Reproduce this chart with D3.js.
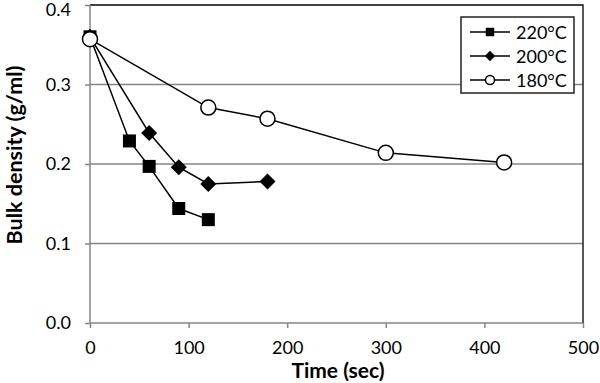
<!DOCTYPE html>
<html>
<head>
<meta charset="utf-8">
<script src="https://cdn.jsdelivr.net/npm/d3@7"></script>
<style>
  body { margin: 0; background: #fff; }
  text { font-family: Lato, "Open Sans", sans-serif; fill: #000; }
</style>
</head>
<body>
<div id="chart"></div>
<script>
// data
var seriesNames = ["220°C", "200°C", "180°C"];
var time220 = [0, 40, 60, 90, 120],
    dens220 = [0.360, 0.229, 0.197, 0.144, 0.130];
var time200 = [0, 60, 90, 120, 180],
    dens200 = [0.360, 0.239, 0.196, 0.175, 0.178];
var time180 = [0, 120, 180, 300, 420],
    dens180 = [0.357, 0.271, 0.257, 0.214, 0.202];
var xTicks = [0, 100, 200, 300, 400, 500],
    yTicks = [0.0, 0.1, 0.2, 0.3, 0.4];

var w = 600, h = 383,
    margin = {top: 5, right: 17, bottom: 60, left: 90},
    width = w - margin.left - margin.right,
    height = h - margin.top - margin.bottom;

var svg = d3.select("#chart").append("svg")
    .attr("width", w)
    .attr("height", h);

var g = svg.append("g")
    .attr("transform", "translate(" + margin.left + "," + margin.top + ")");

var x = d3.scaleLinear().domain([0, 500]).range([0, width]),
    y = d3.scaleLinear().domain([0, 0.4]).range([height, 0]);

// gridlines
g.selectAll(".grid")
    .data(yTicks.slice(1))
    .enter().append("line")
    .attr("x1", 0).attr("x2", width)
    .attr("y1", function(d) { return y(d); })
    .attr("y2", function(d) { return y(d); })
    .attr("stroke", "#858585")
    .attr("stroke-width", 1.5);

// top + right border
g.append("path")
    .attr("d", "M0," + y(0.4) + "H" + width + "V" + height)
    .attr("fill", "none")
    .attr("stroke", "#222")
    .attr("stroke-width", 1.5);

// axes
var xAxis = d3.axisBottom(x).tickValues(xTicks).tickSize(5).tickPadding(13).tickFormat(d3.format("d"));
var yAxis = d3.axisLeft(y).tickValues(yTicks).tickSize(5).tickPadding(14).tickFormat(d3.format(".1f"));

var ax = g.append("g")
    .attr("transform", "translate(0," + height + ")")
    .call(xAxis);
var ay = g.append("g").call(yAxis);

[ax, ay].forEach(function(a) {
    a.select(".domain").attr("stroke", "#858585").attr("stroke-width", 1.5);
    a.selectAll(".tick line").attr("stroke", "#858585").attr("stroke-width", 1.5);
    a.selectAll(".tick text")
        .style("font-family", "Lato, 'Open Sans', sans-serif")
        .style("font-size", "18px")
        .attr("fill", "#000");
});
ax.select(".domain").attr("d", "M0,0H" + width);
ay.select(".domain").attr("d", "M0," + height + "V0");
// top label sits a little low so it is not clipped
ay.selectAll(".tick text").filter(function(d) { return d == 0.4; }).attr("dy", "0.6em");

// axis titles
svg.append("text")
    .attr("x", 338)
    .attr("y", 378)
    .attr("text-anchor", "middle")
    .style("font-size", "21px")
    .style("font-weight", "bold")
    .text("Time (sec)");

svg.append("text")
    .attr("transform", "translate(22,155) rotate(-90)")
    .attr("text-anchor", "middle")
    .style("font-size", "21.5px")
    .style("font-weight", "bold")
    .text("Bulk density (g/ml)");

// series
var series = [
    {name: seriesNames[0], t: time220, v: dens220, shape: "square"},
    {name: seriesNames[1], t: time200, v: dens200, shape: "diamond"},
    {name: seriesNames[2], t: time180, v: dens180, shape: "circle"}
];

var line = d3.line()
    .x(function(d) { return x(d[0]); })
    .y(function(d) { return y(d[1]); });

function drawMarker(sel, shape, scale) {
    if (shape == "square") {
        var s = 13 * scale;
        sel.append("rect")
            .attr("x", -s / 2).attr("y", -s / 2)
            .attr("width", s).attr("height", s)
            .attr("fill", "#000");
    } else if (shape == "diamond") {
        var r = 8 * scale;
        sel.append("path")
            .attr("d", "M0," + (-r) + "L" + r + ",0L0," + r + "L" + (-r) + ",0Z")
            .attr("fill", "#000");
    } else {
        sel.append("circle")
            .attr("r", 7.5 * scale)
            .attr("fill", "#fff")
            .attr("stroke", "#000")
            .attr("stroke-width", 1.5);
    }
}

series.forEach(function(s) {
    var pts = s.t.map(function(t, i) { return [t, s.v[i]]; });
    var sg = g.append("g");
    sg.append("path")
        .attr("d", line(pts))
        .attr("fill", "none")
        .attr("stroke", "#000")
        .attr("stroke-width", 1.5);
    sg.selectAll(".pt")
        .data(pts)
        .enter().append("g")
        .attr("transform", function(d) { return "translate(" + x(d[0]) + "," + y(d[1]) + ")"; })
        .each(function() { drawMarker(d3.select(this), s.shape, 1); });
});

// legend
var lg = svg.append("g").attr("transform", "translate(461,17)");
lg.append("rect")
    .attr("width", 113).attr("height", 76)
    .attr("fill", "#fff")
    .attr("stroke", "#222")
    .attr("stroke-width", 1.5);

series.forEach(function(s, i) {
    var row = lg.append("g").attr("transform", "translate(0," + (15 + i * 24) + ")");
    row.append("line")
        .attr("x1", 9).attr("x2", 49)
        .attr("stroke", "#000").attr("stroke-width", 1.5);
    var m = row.append("g").attr("transform", "translate(29,0)");
    drawMarker(m, s.shape, s.shape == "circle" ? 0.6 : 0.65);
    row.append("text")
        .attr("x", 55).attr("y", 6.5)
        .style("font-size", "18px")
        .text(s.name);
});
</script>
</body>
</html>
